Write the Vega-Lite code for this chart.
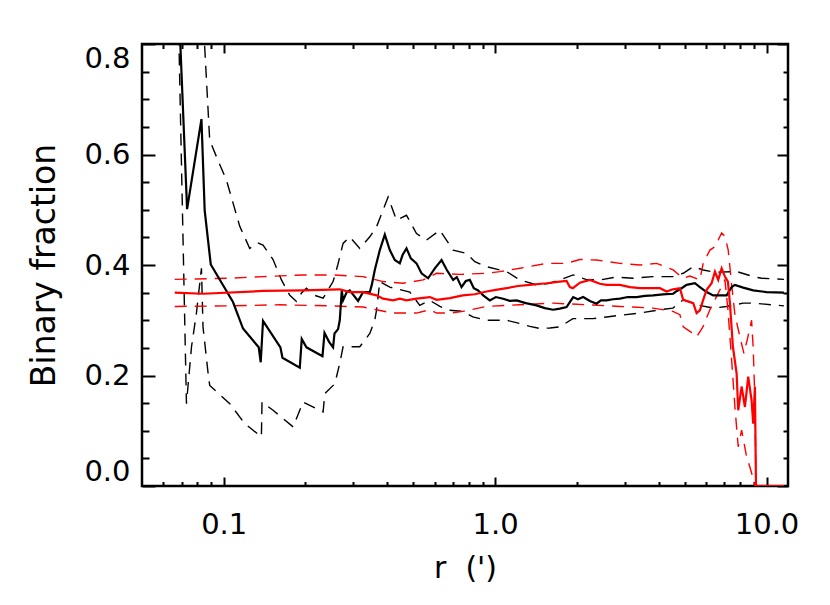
{
  "$schema": "https://vega.github.io/schema/vega-lite/v6.json",
  "width": 646,
  "height": 442,
  "autosize": {"type": "none"},
  "padding": {"left": 142, "top": 44, "right": 42, "bottom": 119},
  "background": "white",
  "config": {
    "view": {"stroke": "black", "strokeWidth": 2.5},
    "axis": {"grid": false, "domain": false, "labelColor": "black", "titleColor": "black", "tickColor": "black", "labelFont": "DejaVu Sans", "titleFont": "DejaVu Sans", "titleFontWeight": "normal", "labelFontWeight": "normal"}
  },
  "datasets": {
    "frame": [{"r": 0.05, "f": 0}, {"r": 12, "f": 0.8}],
    "c": [
      {"s":"bs","r":0.0666,"f":1.0},{"s":"bs","r":0.0733,"f":0.501},{"s":"bs","r":0.0828,"f":0.664},{"s":"bs","r":0.0851,"f":0.499},{"s":"bs","r":0.0896,"f":0.401},{"s":"bs","r":0.1082,"f":0.333},{"s":"bs","r":0.1178,"f":0.285},{"s":"bs","r":0.1346,"f":0.251},{"s":"bs","r":0.1369,"f":0.224},{"s":"bs","r":0.1396,"f":0.299},{"s":"bs","r":0.1618,"f":0.251},{"s":"bs","r":0.1646,"f":0.232},{"s":"bs","r":0.1907,"f":0.214},{"s":"bs","r":0.1939,"f":0.266},{"s":"bs","r":0.2018,"f":0.251},{"s":"bs","r":0.2312,"f":0.235},{"s":"bs","r":0.2352,"f":0.277},{"s":"bs","r":0.2445,"f":0.261},{"s":"bs","r":0.2529,"f":0.251},{"s":"bs","r":0.256,"f":0.276},{"s":"bs","r":0.2639,"f":0.284},{"s":"bs","r":0.2677,"f":0.3},{"s":"bs","r":0.2723,"f":0.354},{"s":"bs","r":0.2753,"f":0.336},{"s":"bs","r":0.2841,"f":0.351},{"s":"bs","r":0.2914,"f":0.354},{"s":"bs","r":0.3127,"f":0.335},{"s":"bs","r":0.3263,"f":0.351},{"s":"bs","r":0.3454,"f":0.351},{"s":"bs","r":0.3513,"f":0.364},{"s":"bs","r":0.3603,"f":0.391},{"s":"bs","r":0.376,"f":0.427},{"s":"bs","r":0.3923,"f":0.455},{"s":"bs","r":0.4092,"f":0.427},{"s":"bs","r":0.427,"f":0.409},{"s":"bs","r":0.4455,"f":0.403},{"s":"bs","r":0.456,"f":0.418},{"s":"bs","r":0.4716,"f":0.43},{"s":"bs","r":0.4891,"f":0.412},{"s":"bs","r":0.5133,"f":0.403},{"s":"bs","r":0.5356,"f":0.385},{"s":"bs","r":0.5665,"f":0.376},{"s":"bs","r":0.5997,"f":0.394},{"s":"bs","r":0.6349,"f":0.409},{"s":"bs","r":0.664,"f":0.391},{"s":"bs","r":0.7004,"f":0.373},{"s":"bs","r":0.7227,"f":0.378},{"s":"bs","r":0.752,"f":0.36},{"s":"bs","r":0.7799,"f":0.371},{"s":"bs","r":0.8069,"f":0.373},{"s":"bs","r":0.8348,"f":0.358},{"s":"bs","r":0.8659,"f":0.354},{"s":"bs","r":0.9087,"f":0.344},{"s":"bs","r":0.9562,"f":0.336},{"s":"bs","r":1.0061,"f":0.342},{"s":"bs","r":1.0704,"f":0.339},{"s":"bs","r":1.133,"f":0.335},{"s":"bs","r":1.1994,"f":0.336},{"s":"bs","r":1.2979,"f":0.331},{"s":"bs","r":1.4212,"f":0.327},{"s":"bs","r":1.5251,"f":0.322},{"s":"bs","r":1.6362,"f":0.319},{"s":"bs","r":1.732,"f":0.321},{"s":"bs","r":1.8333,"f":0.324},{"s":"bs","r":1.8855,"f":0.333},{"s":"bs","r":1.9392,"f":0.342},{"s":"bs","r":2.0182,"f":0.338},{"s":"bs","r":2.1109,"f":0.342},{"s":"bs","r":2.2344,"f":0.335},{"s":"bs","r":2.3651,"f":0.33},{"s":"bs","r":2.4533,"f":0.336},{"s":"bs","r":2.5745,"f":0.336},{"s":"bs","r":2.7162,"f":0.338},{"s":"bs","r":2.8824,"f":0.339},{"s":"bs","r":3.0855,"f":0.342},{"s":"bs","r":3.3217,"f":0.342},{"s":"bs","r":3.5643,"f":0.344},{"s":"bs","r":3.8236,"f":0.345},{"s":"bs","r":4.152,"f":0.347},{"s":"bs","r":4.5304,"f":0.348},{"s":"bs","r":4.6754,"f":0.353},{"s":"bs","r":4.866,"f":0.358},{"s":"bs","r":5.077,"f":0.364},{"s":"bs","r":5.447,"f":0.367},{"s":"bs","r":5.683,"f":0.36},{"s":"bs","r":6.016,"f":0.351},{"s":"bs","r":6.362,"f":0.345},{"s":"bs","r":7.13,"f":0.345},{"s":"bs","r":7.438,"f":0.36},{"s":"bs","r":7.649,"f":0.364},{"s":"bs","r":8.207,"f":0.359},{"s":"bs","r":8.932,"f":0.354},{"s":"bs","r":10.011,"f":0.351},{"s":"bs","r":11.595,"f":0.35},
      {"s":"bu","r":0.0816,"f":1.05},{"s":"bu","r":0.0851,"f":0.795},{"s":"bu","r":0.0888,"f":0.626},{"s":"bu","r":0.0951,"f":0.59},{"s":"bu","r":0.1023,"f":0.554},{"s":"bu","r":0.1146,"f":0.47},{"s":"bu","r":0.1247,"f":0.43},{"s":"bu","r":0.1335,"f":0.44},{"s":"bu","r":0.1396,"f":0.436},{"s":"bu","r":0.152,"f":0.41},{"s":"bu","r":0.1632,"f":0.373},{"s":"bu","r":0.1752,"f":0.345},{"s":"bu","r":0.1854,"f":0.334},{"s":"bu","r":0.1939,"f":0.35},{"s":"bu","r":0.2018,"f":0.358},{"s":"bu","r":0.2166,"f":0.345},{"s":"bu","r":0.2324,"f":0.34},{"s":"bu","r":0.2529,"f":0.37},{"s":"bu","r":0.2632,"f":0.4},{"s":"bu","r":0.2753,"f":0.439},{"s":"bu","r":0.2914,"f":0.451},{"s":"bu","r":0.3172,"f":0.43},{"s":"bu","r":0.3454,"f":0.451},{"s":"bu","r":0.3656,"f":0.469},{"s":"bu","r":0.4034,"f":0.523},{"s":"bu","r":0.4332,"f":0.481},{"s":"bu","r":0.4716,"f":0.49},{"s":"bu","r":0.5133,"f":0.457},{"s":"bu","r":0.5589,"f":0.445},{"s":"bu","r":0.6257,"f":0.463},{"s":"bu","r":0.7004,"f":0.427},{"s":"bu","r":0.7846,"f":0.421},{"s":"bu","r":0.8419,"f":0.406},{"s":"bu","r":0.9297,"f":0.397},{"s":"bu","r":1.1018,"f":0.388},{"s":"bu","r":1.2335,"f":0.373},{"s":"bu","r":1.4212,"f":0.364},{"s":"bu","r":1.5912,"f":0.367},{"s":"bu","r":1.732,"f":0.373},{"s":"bu","r":1.9392,"f":0.382},{"s":"bu","r":2.16,"f":0.374},{"s":"bu","r":2.4325,"f":0.373},{"s":"bu","r":2.7864,"f":0.378},{"s":"bu","r":3.2192,"f":0.376},{"s":"bu","r":3.8139,"f":0.379},{"s":"bu","r":4.5189,"f":0.379},{"s":"bu","r":4.9325,"f":0.385},{"s":"bu","r":5.37,"f":0.397},{"s":"bu","r":5.844,"f":0.391},{"s":"bu","r":6.456,"f":0.387},{"s":"bu","r":7.779,"f":0.388},{"s":"bu","r":8.932,"f":0.379},{"s":"bu","r":9.594,"f":0.376},{"s":"bu","r":11.595,"f":0.374},
      {"s":"bl","r":0.0671,"f":1.0},{"s":"bl","r":0.0729,"f":0.149},{"s":"bl","r":0.0761,"f":0.252},{"s":"bl","r":0.0793,"f":0.312},{"s":"bl","r":0.0828,"f":0.394},{"s":"bl","r":0.0839,"f":0.288},{"s":"bl","r":0.0876,"f":0.204},{"s":"bl","r":0.0888,"f":0.182},{"s":"bl","r":0.1053,"f":0.149},{"s":"bl","r":0.1195,"f":0.113},{"s":"bl","r":0.1377,"f":0.089},{"s":"bl","r":0.1384,"f":0.152},{"s":"bl","r":0.152,"f":0.137},{"s":"bl","r":0.1802,"f":0.107},{"s":"bl","r":0.1961,"f":0.152},{"s":"bl","r":0.2324,"f":0.134},{"s":"bl","r":0.2358,"f":0.167},{"s":"bl","r":0.2566,"f":0.185},{"s":"bl","r":0.2677,"f":0.222},{"s":"bl","r":0.2753,"f":0.252},{"s":"bl","r":0.3172,"f":0.252},{"s":"bl","r":0.3454,"f":0.276},{"s":"bl","r":0.3603,"f":0.3},{"s":"bl","r":0.3656,"f":0.318},{"s":"bl","r":0.376,"f":0.37},{"s":"bl","r":0.4092,"f":0.36},{"s":"bl","r":0.485,"f":0.351},{"s":"bl","r":0.5279,"f":0.327},{"s":"bl","r":0.5748,"f":0.336},{"s":"bl","r":0.6257,"f":0.325},{"s":"bl","r":0.6812,"f":0.318},{"s":"bl","r":0.7603,"f":0.316},{"s":"bl","r":0.8277,"f":0.306},{"s":"bl","r":0.9297,"f":0.3},{"s":"bl","r":1.1018,"f":0.3},{"s":"bl","r":1.2335,"f":0.294},{"s":"bl","r":1.3429,"f":0.289},{"s":"bl","r":1.4617,"f":0.285},{"s":"bl","r":1.5912,"f":0.286},{"s":"bl","r":1.732,"f":0.288},{"s":"bl","r":1.9339,"f":0.303},{"s":"bl","r":2.2921,"f":0.303},{"s":"bl","r":2.5745,"f":0.306},{"s":"bl","r":2.8824,"f":0.309},{"s":"bl","r":3.4164,"f":0.313},{"s":"bl","r":4.0474,"f":0.319},{"s":"bl","r":4.5189,"f":0.322},{"s":"bl","r":4.9325,"f":0.337},{"s":"bl","r":5.221,"f":0.333},{"s":"bl","r":5.526,"f":0.328},{"s":"bl","r":6.362,"f":0.322},{"s":"bl","r":7.13,"f":0.325},{"s":"bl","r":8.207,"f":0.331},{"s":"bl","r":8.932,"f":0.331},{"s":"bl","r":11.595,"f":0.326},
      {"s":"rs","r":0.066,"f":0.35},{"s":"rs","r":0.0839,"f":0.348},{"s":"rs","r":0.1396,"f":0.353},{"s":"rs","r":0.1961,"f":0.354},{"s":"rs","r":0.2677,"f":0.356},{"s":"rs","r":0.2914,"f":0.351},{"s":"rs","r":0.3263,"f":0.351},{"s":"rs","r":0.3656,"f":0.345},{"s":"rs","r":0.3866,"f":0.339},{"s":"rs","r":0.4209,"f":0.336},{"s":"rs","r":0.4455,"f":0.339},{"s":"rs","r":0.4716,"f":0.336},{"s":"rs","r":0.5133,"f":0.339},{"s":"rs","r":0.5748,"f":0.342},{"s":"rs","r":0.6085,"f":0.337},{"s":"rs","r":0.6812,"f":0.34},{"s":"rs","r":0.7603,"f":0.345},{"s":"rs","r":0.8419,"f":0.347},{"s":"rs","r":0.9297,"f":0.352},{"s":"rs","r":1.0061,"f":0.355},{"s":"rs","r":1.1018,"f":0.358},{"s":"rs","r":1.2127,"f":0.362},{"s":"rs","r":1.3429,"f":0.364},{"s":"rs","r":1.5474,"f":0.367},{"s":"rs","r":1.732,"f":0.37},{"s":"rs","r":1.8333,"f":0.371},{"s":"rs","r":1.8855,"f":0.36},{"s":"rs","r":1.9339,"f":0.358},{"s":"rs","r":2.0529,"f":0.368},{"s":"rs","r":2.2344,"f":0.373},{"s":"rs","r":2.4325,"f":0.366},{"s":"rs","r":2.5745,"f":0.364},{"s":"rs","r":2.8824,"f":0.364},{"s":"rs","r":3.1385,"f":0.36},{"s":"rs","r":3.4164,"f":0.358},{"s":"rs","r":4.0474,"f":0.358},{"s":"rs","r":4.2844,"f":0.352},{"s":"rs","r":4.5189,"f":0.356},{"s":"rs","r":4.7959,"f":0.358},{"s":"rs","r":4.9325,"f":0.337},{"s":"rs","r":5.37,"f":0.331},{"s":"rs","r":5.526,"f":0.313},{"s":"rs","r":5.683,"f":0.318},{"s":"rs","r":5.844,"f":0.337},{"s":"rs","r":6.016,"f":0.355},{"s":"rs","r":6.276,"f":0.367},{"s":"rs","r":6.456,"f":0.388},{"s":"rs","r":6.638,"f":0.373},{"s":"rs","r":6.834,"f":0.394},{"s":"rs","r":7.027,"f":0.379},{"s":"rs","r":7.209,"f":0.37},{"s":"rs","r":7.331,"f":0.331},{"s":"rs","r":7.52,"f":0.252},{"s":"rs","r":7.759,"f":0.204},{"s":"rs","r":7.866,"f":0.137},{"s":"rs","r":8.096,"f":0.18},{"s":"rs","r":8.326,"f":0.143},{"s":"rs","r":8.562,"f":0.198},{"s":"rs","r":8.811,"f":0.155},{"s":"rs","r":8.932,"f":0.113},{"s":"rs","r":9.064,"f":0.18},{"s":"rs","r":9.145,"f":0.0},{"s":"rs","r":11.595,"f":0.0},
      {"s":"ru","r":0.066,"f":0.374},{"s":"ru","r":0.1053,"f":0.376},{"s":"ru","r":0.1396,"f":0.379},{"s":"ru","r":0.1961,"f":0.382},{"s":"ru","r":0.2529,"f":0.382},{"s":"ru","r":0.3263,"f":0.379},{"s":"ru","r":0.3866,"f":0.37},{"s":"ru","r":0.4581,"f":0.367},{"s":"ru","r":0.543,"f":0.373},{"s":"ru","r":0.6085,"f":0.385},{"s":"ru","r":0.7412,"f":0.383},{"s":"ru","r":0.9297,"f":0.385},{"s":"ru","r":1.041,"f":0.388},{"s":"ru","r":1.2335,"f":0.394},{"s":"ru","r":1.5474,"f":0.403},{"s":"ru","r":1.8333,"f":0.403},{"s":"ru","r":2.0529,"f":0.41},{"s":"ru","r":2.3651,"f":0.409},{"s":"ru","r":2.8824,"f":0.403},{"s":"ru","r":3.4164,"f":0.4},{"s":"ru","r":3.936,"f":0.403},{"s":"ru","r":4.5304,"f":0.391},{"s":"ru","r":4.9325,"f":0.376},{"s":"ru","r":5.221,"f":0.38},{"s":"ru","r":5.683,"f":0.373},{"s":"ru","r":5.844,"f":0.403},{"s":"ru","r":6.186,"f":0.427},{"s":"ru","r":6.456,"f":0.433},{"s":"ru","r":6.834,"f":0.458},{"s":"ru","r":7.027,"f":0.452},{"s":"ru","r":7.227,"f":0.427},{"s":"ru","r":7.438,"f":0.365},{"s":"ru","r":7.649,"f":0.31},{"s":"ru","r":7.981,"f":0.27},{"s":"ru","r":8.256,"f":0.24},{"s":"ru","r":8.54,"f":0.27},{"s":"ru","r":8.811,"f":0.3},{"s":"ru","r":8.932,"f":0.25},{"s":"ru","r":9.064,"f":0.155},{"s":"ru","r":9.145,"f":0.0},{"s":"ru","r":11.595,"f":0.0},
      {"s":"rl","r":0.066,"f":0.325},{"s":"rl","r":0.1053,"f":0.326},{"s":"rl","r":0.1609,"f":0.328},{"s":"rl","r":0.246,"f":0.326},{"s":"rl","r":0.3263,"f":0.324},{"s":"rl","r":0.3656,"f":0.319},{"s":"rl","r":0.4209,"f":0.313},{"s":"rl","r":0.5133,"f":0.313},{"s":"rl","r":0.5748,"f":0.319},{"s":"rl","r":0.6085,"f":0.313},{"s":"rl","r":0.6812,"f":0.313},{"s":"rl","r":0.7603,"f":0.316},{"s":"rl","r":0.9297,"f":0.325},{"s":"rl","r":1.2335,"f":0.328},{"s":"rl","r":1.6321,"f":0.331},{"s":"rl","r":2.1726,"f":0.328},{"s":"rl","r":2.8824,"f":0.325},{"s":"rl","r":3.8139,"f":0.322},{"s":"rl","r":4.5189,"f":0.316},{"s":"rl","r":4.7959,"f":0.31},{"s":"rl","r":4.9325,"f":0.288},{"s":"rl","r":5.221,"f":0.28},{"s":"rl","r":5.526,"f":0.27},{"s":"rl","r":5.83,"f":0.288},{"s":"rl","r":6.186,"f":0.319},{"s":"rl","r":6.735,"f":0.355},{"s":"rl","r":7.027,"f":0.373},{"s":"rl","r":7.209,"f":0.319},{"s":"rl","r":7.438,"f":0.228},{"s":"rl","r":7.649,"f":0.143},{"s":"rl","r":7.866,"f":0.071},{"s":"rl","r":8.096,"f":0.101},{"s":"rl","r":8.447,"f":0.053},{"s":"rl","r":8.689,"f":0.034},{"s":"rl","r":8.912,"f":0.015},{"s":"rl","r":9.064,"f":0.0},{"s":"rl","r":11.595,"f":0.0}
    ]
  },
  "layer": [
    {
      "data": {"name": "c"},
      "transform": [{"filter": "datum.s == 'bu' || datum.s == 'bl' || datum.s == 'ru' || datum.s == 'rl'"}],
      "mark": {"type": "line", "clip": true, "strokeDash": [12, 8], "strokeWidth": 1.4},
      "encoding": {
        "x": {"field": "r", "type": "quantitative", "scale": {"type": "log", "domain": [0.05, 12], "nice": false},
          "axis": {"orient": "bottom", "values": [0.1, 1, 10], "format": ".1f", "ticks": false, "tickSize": 0, "labelPadding": 24, "labelFontSize": 29, "labelFlush": false, "title": "r \u00a0(')", "titleFontSize": 30, "titlePadding": 14}},
        "y": {"field": "f", "type": "quantitative", "scale": {"domain": [0, 0.8], "nice": false, "zero": false},
          "axis": {"orient": "left", "values": [0, 0.2, 0.4, 0.6, 0.8], "format": ".1f", "ticks": false, "tickSize": 0, "labelPadding": 12, "labelFontSize": 29, "labelFlush": true, "title": "Binary fraction", "titleFontSize": 33, "titlePadding": 22}},
        "color": {"field": "s", "type": "nominal", "scale": {"domain": ["bl", "bu", "rl", "ru", "rs", "bs"], "range": ["black", "black", "red", "red", "red", "black"]}, "legend": null}
      }
    },
    {
      "data": {"name": "c"},
      "transform": [{"filter": "datum.s == 'bs' || datum.s == 'rs'"}],
      "mark": {"type": "line", "clip": true, "strokeWidth": 2.2},
      "encoding": {
        "x": {"field": "r", "type": "quantitative", "scale": {"type": "log", "domain": [0.05, 12], "nice": false}, "axis": null},
        "y": {"field": "f", "type": "quantitative", "scale": {"domain": [0, 0.8], "nice": false, "zero": false}, "axis": null},
        "color": {"field": "s", "type": "nominal", "scale": {"domain": ["bl", "bu", "rl", "ru", "rs", "bs"], "range": ["black", "black", "red", "red", "red", "black"]}, "legend": null}
      }
    },
    {
      "data": {"name": "frame"},
      "mark": {"type": "point", "opacity": 0},
      "encoding": {
        "x": {"field": "r", "type": "quantitative", "scale": {"type": "log", "domain": [0.05, 12], "nice": false},
          "axis": {"orient": "bottom", "values": [0.1, 1, 10], "labels": false, "tickSize": -9, "tickWidth": 2, "title": null}},
        "y": {"field": "f", "type": "quantitative", "scale": {"domain": [0, 0.8], "nice": false, "zero": false},
          "axis": {"orient": "left", "values": [0, 0.2, 0.4, 0.6, 0.8], "labels": false, "tickSize": -13, "tickWidth": 2, "title": null}}
      }
    },
    {
      "data": {"name": "frame"},
      "mark": {"type": "point", "opacity": 0},
      "encoding": {
        "x": {"field": "r", "type": "quantitative", "scale": {"type": "log", "domain": [0.05, 12], "nice": false},
          "axis": {"orient": "bottom", "values": [0.06, 0.07, 0.08, 0.09, 0.2, 0.3, 0.4, 0.5, 0.6, 0.7, 0.8, 0.9, 2, 3, 4, 5, 6, 7, 8, 9], "labels": false, "tickSize": -4.5, "tickWidth": 2, "title": null}},
        "y": {"field": "f", "type": "quantitative", "scale": {"domain": [0, 0.8], "nice": false, "zero": false},
          "axis": {"orient": "left", "values": [0.05, 0.1, 0.15, 0.25, 0.3, 0.35, 0.45, 0.5, 0.55, 0.65, 0.7, 0.75], "labels": false, "tickSize": -7, "tickWidth": 2, "title": null}}
      }
    },
    {
      "data": {"name": "frame"},
      "mark": {"type": "point", "opacity": 0},
      "encoding": {
        "x": {"field": "r", "type": "quantitative", "scale": {"type": "log", "domain": [0.05, 12], "nice": false},
          "axis": {"orient": "top", "values": [0.1, 1, 10], "labels": false, "tickSize": -9, "tickWidth": 2, "title": null}},
        "y": {"field": "f", "type": "quantitative", "scale": {"domain": [0, 0.8], "nice": false, "zero": false},
          "axis": {"orient": "right", "values": [0, 0.2, 0.4, 0.6, 0.8], "labels": false, "tickSize": -11, "tickWidth": 2, "title": null}}
      }
    },
    {
      "data": {"name": "frame"},
      "mark": {"type": "point", "opacity": 0},
      "encoding": {
        "x": {"field": "r", "type": "quantitative", "scale": {"type": "log", "domain": [0.05, 12], "nice": false},
          "axis": {"orient": "top", "values": [0.06, 0.07, 0.08, 0.09, 0.2, 0.3, 0.4, 0.5, 0.6, 0.7, 0.8, 0.9, 2, 3, 4, 5, 6, 7, 8, 9], "labels": false, "tickSize": -4.5, "tickWidth": 2, "title": null}},
        "y": {"field": "f", "type": "quantitative", "scale": {"domain": [0, 0.8], "nice": false, "zero": false},
          "axis": {"orient": "right", "values": [0.05, 0.1, 0.15, 0.25, 0.3, 0.35, 0.45, 0.5, 0.55, 0.65, 0.7, 0.75], "labels": false, "tickSize": -5, "tickWidth": 2, "title": null}}
      }
    }
  ],
  "resolve": {"scale": {"x": "independent", "y": "independent"}}
}
